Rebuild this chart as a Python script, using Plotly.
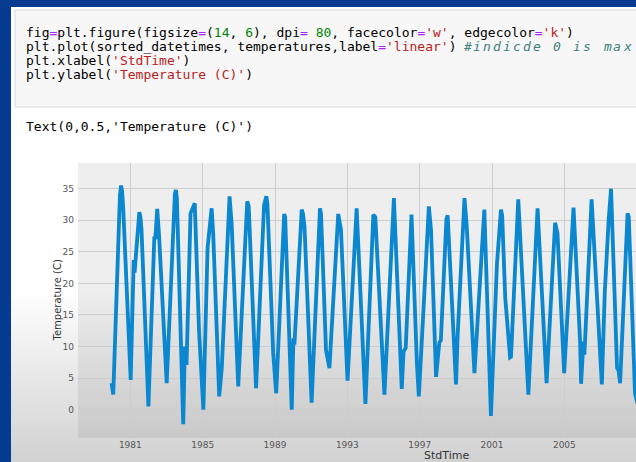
import plotly.graph_objects as go

# ---- data ----
dates = [
    "1979-12-20", "1980-01-22", "1980-06-05", "1980-06-28", "1980-07-20", "1980-08-10",
    "1981-01-08", "1981-03-10", "1981-03-28", "1981-07-01", "1981-07-25", "1981-08-15",
    "1982-01-01", "1982-05-01", "1982-05-20", "1982-06-28", "1982-08-05",
    "1983-01-05", "1983-06-20", "1983-07-10", "1983-07-30", "1983-12-05",
    "1984-01-08", "1984-02-10", "1984-05-01", "1984-06-20", "1984-07-25", "1984-10-20",
    "1985-01-15", "1985-04-10", "1985-07-01", "1985-08-01", "1985-12-01",
    "1986-01-22", "1986-06-28", "1986-08-10", "1986-12-20",
    "1987-06-20", "1987-07-20", "1987-12-15",
    "1988-05-25", "1988-07-10", "1988-08-01", "1988-11-25",
    "1989-01-25", "1989-07-05", "1989-07-25", "1989-12-05",
    "1990-01-08", "1990-01-28", "1990-06-25", "1990-07-20", "1990-08-20",
    "1991-01-10", "1991-06-28", "1991-07-20", "1991-10-28",
    "1992-01-05", "1992-07-01", "1992-08-25",
    "1993-01-05", "1993-07-08",
    "1994-01-01", "1994-06-10", "1994-07-20",
    "1995-01-20", "1995-07-30",
    "1996-01-05", "1996-02-10", "1996-03-25", "1996-07-20", "1996-11-05", "1996-12-15",
    "1997-03-15", "1997-07-05", "1997-08-18", "1997-11-28",
    "1998-02-01", "1998-03-05", "1998-06-25", "1998-07-20",
    "1999-01-05", "1999-01-22", "1999-02-05", "1999-06-25", "1999-08-10",
    "2000-01-12", "2000-07-30", "2000-12-10",
    "2001-04-10", "2001-07-01", "2001-07-25", "2001-09-25",
    "2002-01-01", "2002-01-20", "2002-04-10", "2002-05-05", "2002-06-15",
    "2003-01-05", "2003-07-10",
    "2004-01-08", "2004-06-28", "2004-08-15", "2004-12-28",
    "2005-07-05", "2005-11-15", "2005-12-05",
    "2006-01-22", "2006-02-10", "2006-04-30", "2006-05-20", "2006-07-05",
    "2007-01-28", "2007-03-12", "2007-03-28", "2007-06-15", "2007-08-02",
    "2007-12-01", "2008-01-01", "2008-02-01",
    "2008-07-01", "2008-07-25", "2008-11-28",
    "2009-01-15", "2009-06-25",
]
temperatures = [
    4.2, 2.4, 34.0, 35.5, 34.5, 32.0,
    4.7, 23.7, 21.7, 31.3, 30.5, 28.5,
    0.5, 27.4, 27.0, 31.8, 27.5,
    4.2, 34.2, 34.8, 33.5, -2.3,
    10.0, 7.1, 31.1, 32.3, 32.7, 12.4,
    0.0, 25.6, 31.9, 28.0, 2.1,
    6.6, 33.8, 29.3, 3.7,
    33.0, 32.2, 3.4,
    32.4, 33.8, 32.5, 9.0,
    2.6, 31.0, 30.5, 0.0,
    11.3, 10.3, 31.7, 31.0, 29.0,
    1.1, 31.9, 31.0, 9.4,
    6.6, 31.0, 28.5,
    4.6, 31.9,
    0.9, 30.9, 30.5,
    2.4, 33.5,
    3.3, 9.2, 9.8, 30.9, 7.5, 2.1,
    15.3, 32.2, 28.5, 5.2,
    10.6, 11.0, 30.2, 30.8,
    4.0, 11.3, 11.5, 33.5, 29.0,
    5.8, 31.7, -1.0,
    23.0, 31.7, 30.8, 17.7,
    8.3, 8.4, 22.0, 25.6, 33.3,
    2.4, 31.9,
    4.2, 29.6, 28.0, 5.8,
    32.0, 10.8, 4.1,
    10.8, 8.7, 23.8, 24.3, 33.3,
    4.0, 18.0, 18.5, 30.1, 35.0,
    6.6, 6.2, 4.2,
    31.1, 30.5, 2.6,
    1.0, 32.0,
]
x_range = ["1978-02-09", "2008-12-18"]
y_range = [-4.48, 39.07]
x_title = "StdTime"
y_title = "Temperature (C)"

code_lines = [
    "fig<span style='color:#AA22FF'>=</span>plt.figure(figsize<span style='color:#AA22FF'>=</span>(<span style='color:#008800'>14</span>, <span style='color:#008800'>6</span>), dpi<span style='color:#AA22FF'>=</span> <span style='color:#008800'>80</span>, facecolor<span style='color:#AA22FF'>=</span><span style='color:#BA2121'>'w'</span>, edgecolor<span style='color:#AA22FF'>=</span><span style='color:#BA2121'>'k'</span>)",
    "plt.plot(sorted_datetimes, temperatures,label<span style='color:#AA22FF'>=</span><span style='color:#BA2121'>'linear'</span>)",
    "plt.xlabel(<span style='color:#BA2121'>'StdTime'</span>)",
    "plt.ylabel(<span style='color:#BA2121'>'Temperature (C)'</span>)",
]
comment = "#indicde 0 is max"
output_line = "Text(0,0.5,'Temperature (C)')"

# ---- layout geometry (pixels) ----
W, H = 636, 462
L, R, T, B = 78, 636, 163, 438


def xp(px):
    return (px - L) / (R - L)


def yp(py):
    return (B - py) / (B - T)


fig = go.Figure()
fig.add_trace(go.Scatter(
    x=dates, y=temperatures, mode="lines",
    line=dict(color="#0a87cf", width=3.8),
    showlegend=False, hoverinfo="skip",
))

shapes = []
# white notebook page
shapes.append(dict(type="rect", xref="paper", yref="paper", layer="below",
                   x0=xp(11), x1=xp(W + 5), y0=yp(7), y1=yp(H + 5),
                   fillcolor="#ffffff", line=dict(width=0)))
# code cell box
shapes.append(dict(type="rect", xref="paper", yref="paper", layer="below",
                   x0=xp(15), x1=xp(W + 5), y0=yp(10), y1=yp(107),
                   fillcolor="#f7f7f7", line=dict(color="#d9d9d9", width=1)))
# plot background
shapes.append(dict(type="rect", xref="paper", yref="paper", layer="below",
                   x0=0, x1=1, y0=0, y1=1,
                   fillcolor="#eeeeee", line=dict(width=0)))
# bottom shading (video gradient), 2 px bands on whole pixels
top, bot, step = 290, H, 2
nb = (bot - top) // step
for i in range(nb):
    y0 = top + step * i
    y1 = y0 + step
    shapes.append(dict(type="rect", xref="paper", yref="paper", layer="below",
                       x0=xp(11), x1=xp(W + 5), y0=yp(y0), y1=yp(y1),
                       fillcolor="rgba(0,0,0,%.3f)" % (0.18 * (i + 0.5) / nb),
                       line=dict(width=0)))

annotations = []
mono = "DejaVu Sans Mono"
for i, line in enumerate(code_lines):
    annotations.append(dict(xref="paper", yref="paper", x=xp(24), y=yp(32 + 14.2 * i),
                            xanchor="left", yanchor="middle", showarrow=False,
                            text=line, font=dict(family=mono, size=13, color="#000")))
# the italic comment is rendered wider in the reference (about 10 px per character)
for j, ch in enumerate(comment):
    if ch == " ":
        continue
    annotations.append(dict(xref="paper", yref="paper", x=xp(462 + 5 + 10 * j), y=yp(46.2),
                            xanchor="center", yanchor="middle", showarrow=False,
                            text="<i>" + ch + "</i>",
                            font=dict(family=mono, size=13, color="#408080")))
annotations.append(dict(xref="paper", yref="paper", x=xp(24), y=yp(126),
                        xanchor="left", yanchor="middle", showarrow=False,
                        text=output_line, font=dict(family=mono, size=13, color="#000")))
annotations.append(dict(xref="paper", yref="paper", x=xp(446.5), y=yp(455),
                        xanchor="center", yanchor="middle", showarrow=False,
                        text=x_title, font=dict(family="DejaVu Sans", size=11, color="#333")))
annotations.append(dict(xref="paper", yref="paper", x=xp(56.5), y=yp(301),
                        xanchor="center", yanchor="middle", showarrow=False, textangle=-90,
                        text=y_title, font=dict(family="DejaVu Sans", size=10, color="#333")))

fig.update_layout(
    width=W, height=H,
    margin=dict(l=L, r=W - R, t=T, b=H - B, pad=0),
    paper_bgcolor="#053c91",
    plot_bgcolor="rgba(0,0,0,0)",
    shapes=shapes,
    annotations=annotations,
    xaxis=dict(type="date", range=x_range, tick0="1981-01-01", dtick="M48",
               tickformat="%Y", showgrid=True, gridcolor="#cdcdcd", gridwidth=1,
               zeroline=False, showline=False, ticks="",
               tickfont=dict(family="DejaVu Sans", size=9, color="#555")),
    yaxis=dict(range=y_range, tick0=0, dtick=5, showgrid=True,
               gridcolor="#cdcdcd", gridwidth=1, zeroline=False, showline=False,
               ticks="", ticklabelstandoff=3,
               tickfont=dict(family="DejaVu Sans", size=9, color="#555")),
    font=dict(family="DejaVu Sans"),
)

fig.write_html(
    "out.html",
    config={"displayModeBar": False},
    post_script="document.body.style.margin='0px';document.body.style.overflow='hidden';",
)
